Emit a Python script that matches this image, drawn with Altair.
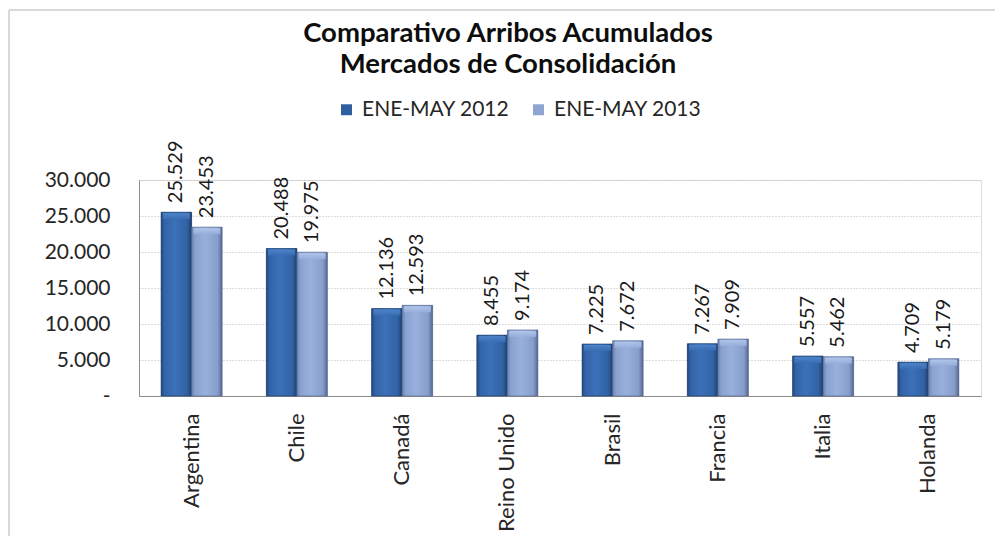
import altair as alt
import pandas as pd

paises = ["Argentina", "Chile", "Canadá", "Reino Unido", "Brasil", "Francia", "Italia", "Holanda"]
v2012 = [25529, 20488, 12136, 8455, 7225, 7267, 5557, 4709]
v2013 = [23453, 19975, 12593, 9174, 7672, 7909, 5462, 5179]
series = ["ENE-MAY 2012", "ENE-MAY 2013"]
y_ticks = [0, 5000, 10000, 15000, 20000, 25000, 30000]
titulo = ["Comparativo Arribos Acumulados", "Mercados de Consolidación"]

rows = []
for p, a, b in zip(paises, v2012, v2013):
    rows.append({"pais": p, "serie": series[0], "valor": a})
    rows.append({"pais": p, "serie": series[1], "valor": b})
df = pd.DataFrame(rows)

FONT = "Lato"

grad12 = {"gradient": "linear", "x1": 0, "x2": 1, "y1": 0, "y2": 0,
          "stops": [{"offset": 0, "color": "#234a80"},
                    {"offset": 0.12, "color": "#3464a8"},
                    {"offset": 0.45, "color": "#3c70b8"},
                    {"offset": 0.85, "color": "#3162a4"},
                    {"offset": 1, "color": "#1d3f6e"}]}
grad13 = {"gradient": "linear", "x1": 0, "x2": 1, "y1": 0, "y2": 0,
          "stops": [{"offset": 0, "color": "#6a82b0"},
                    {"offset": 0.12, "color": "#8aa2d0"},
                    {"offset": 0.45, "color": "#98b0dc"},
                    {"offset": 0.85, "color": "#879ecb"},
                    {"offset": 1, "color": "#55678e"}]}
bevel12 = {"gradient": "linear", "x1": 0, "x2": 0, "y1": 0, "y2": 1,
           "stops": [{"offset": 0, "color": "#4f86cc"}, {"offset": 1, "color": "#3a6db3"}]}
bevel13 = {"gradient": "linear", "x1": 0, "x2": 0, "y1": 0, "y2": 1,
           "stops": [{"offset": 0, "color": "#b4c8ec"}, {"offset": 1, "color": "#97aedb"}]}

x_enc = alt.X("pais:N", sort=paises, title=None,
              scale=alt.Scale(paddingInner=0.42, paddingOuter=0.21),
              axis=alt.Axis(labelAngle=-90, labelAlign="right", labelBaseline="middle",
                            labelFontSize=22, labelFont=FONT, labelColor="#262626",
                            labelPadding=17, ticks=False, domainColor="#8c8c8c",
                            domainWidth=1.2, grid=False))
xo_enc = alt.XOffset("serie:N", sort=series, scale=alt.Scale(domain=series, paddingInner=0, paddingOuter=0))
y_enc = alt.Y("valor:Q", title=None,
              scale=alt.Scale(domain=[0, 30000], nice=False),
              axis=alt.Axis(values=y_ticks, labelFontSize=21, labelFont=FONT, labelColor="#262626",
                            labelExpr="datum.value == 0 ? '-' : replace(format(datum.value, ',d'), ',', '.')",
                            labelPadding=29, ticks=False, domainColor="#8c8c8c", domainWidth=1,
                            gridColor="#bdbdbd", gridDash=[1, 2], gridWidth=1))

base = alt.Chart(df)

legend_bars = base.mark_bar().encode(
    x=x_enc, xOffset=xo_enc, y=y_enc,
    color=alt.Color("serie:N", sort=series,
                    scale=alt.Scale(domain=series, range=["#2f5f9f", "#8ea5d2"]),
                    legend=alt.Legend(title=None, orient="none", direction="horizontal",
                                      legendX=197, legendY=-81, symbolType="square",
                                      symbolSize=120, symbolStrokeWidth=0,
                                      labelFontSize=21, labelFont=FONT, labelColor="#262626",
                                      columnPadding=18, labelOffset=5))
)

bars12 = base.transform_filter(alt.datum.serie == series[0]).mark_bar(
    fill=grad12, stroke="#1d3c68", strokeWidth=0.6
).encode(x=x_enc, xOffset=xo_enc, y=y_enc)

bars13 = base.transform_filter(alt.datum.serie == series[1]).mark_bar(
    fill=grad13, stroke="#55678e", strokeWidth=0.6
).encode(x=x_enc, xOffset=xo_enc, y=y_enc)

tops12 = base.transform_filter(alt.datum.serie == series[0]).mark_tick(
    fill=bevel12, stroke=None, thickness=6, size=27, yOffset=4, opacity=0.9
).encode(x=x_enc, xOffset=xo_enc, y=y_enc)

tops13 = base.transform_filter(alt.datum.serie == series[1]).mark_tick(
    fill=bevel13, stroke=None, thickness=6, size=27, yOffset=4, opacity=0.9
).encode(x=x_enc, xOffset=xo_enc, y=y_enc)

labels = base.transform_calculate(
    etiqueta="replace(format(datum.valor, ',d'), ',', '.')"
).mark_text(angle=270, align="left", baseline="middle", dx=9,
            fontSize=20, font=FONT, color="#1a1a1a").encode(
    x=x_enc, xOffset=xo_enc, y=y_enc, text="etiqueta:N")

title_df = pd.DataFrame({"t": titulo, "linea": [0, 1]})
title1 = alt.Chart(title_df).transform_filter(alt.datum.linea == 0).mark_text(
    font=FONT, fontSize=27.5, fontWeight="bold", color="#0d0d0d", align="center", baseline="alphabetic"
).encode(x=alt.value(369), y=alt.value(-138), text="t:N")
title2 = alt.Chart(title_df).transform_filter(alt.datum.linea == 1).mark_text(
    font=FONT, fontSize=27.5, fontWeight="bold", color="#0d0d0d", align="center", baseline="alphabetic"
).encode(x=alt.value(369), y=alt.value(-107), text="t:N")

border_top = alt.Chart(title_df).mark_rule(color="#d9d9d9", strokeWidth=2).encode(
    x=alt.value(-130), x2=alt.value(880), y=alt.value(-170))
border_left = alt.Chart(title_df).mark_rule(color="#d9d9d9", strokeWidth=2).encode(
    x=alt.value(-130), y=alt.value(-170), y2=alt.value(380))

chart = alt.layer(border_top, border_left, title1, title2, legend_bars, bars12, bars13,
                  tops12, tops13, labels).properties(
    width=842, height=216,
    autosize=alt.AutoSizeParams(type="none"),
    padding={"left": 131, "top": 172, "right": 14, "bottom": 140},
).configure_view(stroke=None).configure(background="white")

chart.save("out.html", embed_options={"renderer": "svg", "actions": False})
